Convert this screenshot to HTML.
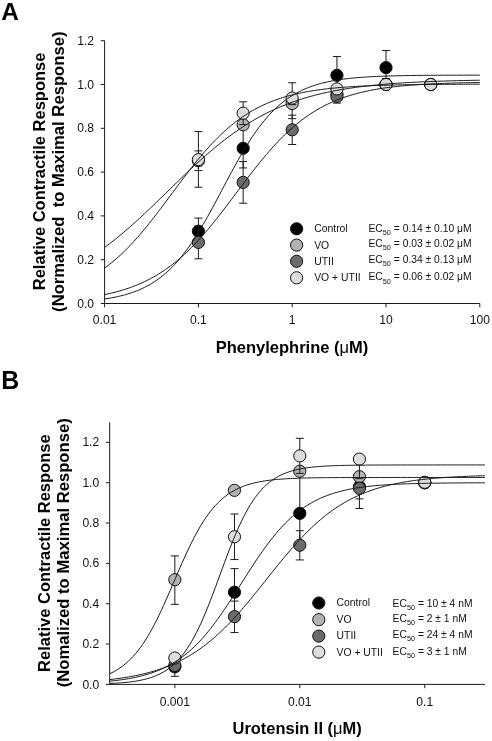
<!DOCTYPE html>
<html><head><meta charset="utf-8"><title>Figure</title>
<style>html,body{margin:0;padding:0;background:#fff}body{width:492px;height:741px;overflow:hidden;font-family:"Liberation Sans",sans-serif}</style>
</head><body>
<svg width="492" height="741" viewBox="0 0 492 741" style="display:block;will-change:transform;opacity:0.999">
<rect width="492" height="741" fill="#fff"/>
<text x="1.3" y="20.2" font-size="24.4" font-weight="bold" fill="#000" font-family="Liberation Sans, sans-serif">A</text>
<text x="1.2" y="389.1" font-size="24.9" font-weight="bold" fill="#000" font-family="Liberation Sans, sans-serif">B</text>
<path d="M104.60 40.50V303.50H479.80" fill="none" stroke="#1a1a1a" stroke-width="1"/>
<line x1="100.80" x2="104.60" y1="303.50" y2="303.50" stroke="#1a1a1a" stroke-width="1"/>
<text x="94.10" y="307.60" font-size="12.1" text-anchor="end" fill="#111" font-family="Liberation Sans, sans-serif">0.0</text>
<line x1="100.80" x2="104.60" y1="259.70" y2="259.70" stroke="#1a1a1a" stroke-width="1"/>
<text x="94.10" y="263.80" font-size="12.1" text-anchor="end" fill="#111" font-family="Liberation Sans, sans-serif">0.2</text>
<line x1="100.80" x2="104.60" y1="215.90" y2="215.90" stroke="#1a1a1a" stroke-width="1"/>
<text x="94.10" y="220.00" font-size="12.1" text-anchor="end" fill="#111" font-family="Liberation Sans, sans-serif">0.4</text>
<line x1="100.80" x2="104.60" y1="172.10" y2="172.10" stroke="#1a1a1a" stroke-width="1"/>
<text x="94.10" y="176.20" font-size="12.1" text-anchor="end" fill="#111" font-family="Liberation Sans, sans-serif">0.6</text>
<line x1="100.80" x2="104.60" y1="128.30" y2="128.30" stroke="#1a1a1a" stroke-width="1"/>
<text x="94.10" y="132.40" font-size="12.1" text-anchor="end" fill="#111" font-family="Liberation Sans, sans-serif">0.8</text>
<line x1="100.80" x2="104.60" y1="84.50" y2="84.50" stroke="#1a1a1a" stroke-width="1"/>
<text x="94.10" y="88.60" font-size="12.1" text-anchor="end" fill="#111" font-family="Liberation Sans, sans-serif">1.0</text>
<line x1="100.80" x2="104.60" y1="40.70" y2="40.70" stroke="#1a1a1a" stroke-width="1"/>
<text x="94.10" y="44.80" font-size="12.1" text-anchor="end" fill="#111" font-family="Liberation Sans, sans-serif">1.2</text>
<line x1="104.60" x2="104.60" y1="303.50" y2="307.30" stroke="#1a1a1a" stroke-width="1"/>
<text x="104.60" y="324.30" font-size="12.1" text-anchor="middle" fill="#111" font-family="Liberation Sans, sans-serif">0.01</text>
<line x1="198.40" x2="198.40" y1="303.50" y2="307.30" stroke="#1a1a1a" stroke-width="1"/>
<text x="198.40" y="324.30" font-size="12.1" text-anchor="middle" fill="#111" font-family="Liberation Sans, sans-serif">0.1</text>
<line x1="292.20" x2="292.20" y1="303.50" y2="307.30" stroke="#1a1a1a" stroke-width="1"/>
<text x="292.20" y="324.30" font-size="12.1" text-anchor="middle" fill="#111" font-family="Liberation Sans, sans-serif">1</text>
<line x1="386.00" x2="386.00" y1="303.50" y2="307.30" stroke="#1a1a1a" stroke-width="1"/>
<text x="386.00" y="324.30" font-size="12.1" text-anchor="middle" fill="#111" font-family="Liberation Sans, sans-serif">10</text>
<line x1="479.80" x2="479.80" y1="303.50" y2="307.30" stroke="#1a1a1a" stroke-width="1"/>
<text x="479.80" y="324.30" font-size="12.1" text-anchor="middle" fill="#111" font-family="Liberation Sans, sans-serif">100</text>
<path d="M198.40 231.23V218.09M194.40 218.09H202.40" fill="none" stroke="#1a1a1a" stroke-width="1"/>
<path d="M198.40 231.23V244.37M194.40 244.37H202.40" fill="none" stroke="#1a1a1a" stroke-width="1"/>
<path d="M243.15 148.23V128.52M239.15 128.52H247.15" fill="none" stroke="#1a1a1a" stroke-width="1"/>
<path d="M243.15 148.23V167.94M239.15 167.94H247.15" fill="none" stroke="#1a1a1a" stroke-width="1"/>
<path d="M292.20 100.92V94.35M288.20 94.35H296.20" fill="none" stroke="#1a1a1a" stroke-width="1"/>
<path d="M292.20 100.92V107.50M288.20 107.50H296.20" fill="none" stroke="#1a1a1a" stroke-width="1"/>
<path d="M336.95 75.30V56.47M332.95 56.47H340.95" fill="none" stroke="#1a1a1a" stroke-width="1"/>
<path d="M336.95 75.30V86.25M332.95 86.25H340.95" fill="none" stroke="#1a1a1a" stroke-width="1"/>
<path d="M386.00 67.64V50.56M382.00 50.56H390.00" fill="none" stroke="#1a1a1a" stroke-width="1"/>
<path d="M386.00 67.64V78.59M382.00 78.59H390.00" fill="none" stroke="#1a1a1a" stroke-width="1"/>
<circle cx="198.40" cy="231.23" r="6.1" fill="#000000" stroke="#111" stroke-width="1"/>
<circle cx="243.15" cy="148.23" r="6.1" fill="#000000" stroke="#111" stroke-width="1"/>
<circle cx="292.20" cy="100.92" r="6.1" fill="#000000" stroke="#111" stroke-width="1"/>
<circle cx="336.95" cy="75.30" r="6.1" fill="#000000" stroke="#111" stroke-width="1"/>
<circle cx="386.00" cy="67.64" r="6.1" fill="#000000" stroke="#111" stroke-width="1"/>
<path d="M198.40 160.71V150.86M194.40 150.86H202.40" fill="none" stroke="#1a1a1a" stroke-width="1"/>
<path d="M198.40 160.71V170.57M194.40 170.57H202.40" fill="none" stroke="#1a1a1a" stroke-width="1"/>
<path d="M243.15 124.80V120.42M239.15 120.42H247.15" fill="none" stroke="#1a1a1a" stroke-width="1"/>
<path d="M243.15 124.80V129.18M239.15 129.18H247.15" fill="none" stroke="#1a1a1a" stroke-width="1"/>
<path d="M292.20 103.55V96.98M288.20 96.98H296.20" fill="none" stroke="#1a1a1a" stroke-width="1"/>
<path d="M292.20 103.55V118.66M288.20 118.66H296.20" fill="none" stroke="#1a1a1a" stroke-width="1"/>
<path d="M336.95 94.14V89.76M332.95 89.76H340.95" fill="none" stroke="#1a1a1a" stroke-width="1"/>
<path d="M336.95 94.14V98.52M332.95 98.52H340.95" fill="none" stroke="#1a1a1a" stroke-width="1"/>
<circle cx="198.40" cy="160.71" r="6.1" fill="#b2b2b2" stroke="#111" stroke-width="1"/>
<circle cx="243.15" cy="124.80" r="6.1" fill="#b2b2b2" stroke="#111" stroke-width="1"/>
<circle cx="292.20" cy="103.55" r="6.1" fill="#b2b2b2" stroke="#111" stroke-width="1"/>
<circle cx="336.95" cy="94.14" r="6.1" fill="#b2b2b2" stroke="#111" stroke-width="1"/>
<circle cx="386.00" cy="84.50" r="6.1" fill="#b2b2b2" stroke="#111" stroke-width="1"/>
<circle cx="430.75" cy="84.50" r="6.1" fill="#b2b2b2" stroke="#111" stroke-width="1"/>
<path d="M198.40 242.40V225.97M194.40 225.97H202.40" fill="none" stroke="#1a1a1a" stroke-width="1"/>
<path d="M198.40 242.40V258.82M194.40 258.82H202.40" fill="none" stroke="#1a1a1a" stroke-width="1"/>
<path d="M243.15 182.39V161.59M239.15 161.59H247.15" fill="none" stroke="#1a1a1a" stroke-width="1"/>
<path d="M243.15 182.39V203.20M239.15 203.20H247.15" fill="none" stroke="#1a1a1a" stroke-width="1"/>
<path d="M292.20 129.83V115.16M288.20 115.16H296.20" fill="none" stroke="#1a1a1a" stroke-width="1"/>
<path d="M292.20 129.83V144.51M288.20 144.51H296.20" fill="none" stroke="#1a1a1a" stroke-width="1"/>
<path d="M336.95 96.55V89.97M332.95 89.97H340.95" fill="none" stroke="#1a1a1a" stroke-width="1"/>
<path d="M336.95 96.55V103.12M332.95 103.12H340.95" fill="none" stroke="#1a1a1a" stroke-width="1"/>
<circle cx="198.40" cy="242.40" r="6.1" fill="#6b6b6b" stroke="#111" stroke-width="1"/>
<circle cx="243.15" cy="182.39" r="6.1" fill="#6b6b6b" stroke="#111" stroke-width="1"/>
<circle cx="292.20" cy="129.83" r="6.1" fill="#6b6b6b" stroke="#111" stroke-width="1"/>
<circle cx="336.95" cy="96.55" r="6.1" fill="#6b6b6b" stroke="#111" stroke-width="1"/>
<circle cx="386.00" cy="84.50" r="6.1" fill="#6b6b6b" stroke="#111" stroke-width="1"/>
<circle cx="430.75" cy="84.50" r="6.1" fill="#6b6b6b" stroke="#111" stroke-width="1"/>
<path d="M198.40 159.62V131.58M194.40 131.58H202.40" fill="none" stroke="#1a1a1a" stroke-width="1"/>
<path d="M198.40 159.62V187.21M194.40 187.21H202.40" fill="none" stroke="#1a1a1a" stroke-width="1"/>
<path d="M243.15 113.19V101.80M239.15 101.80H247.15" fill="none" stroke="#1a1a1a" stroke-width="1"/>
<path d="M243.15 113.19V124.58M239.15 124.58H247.15" fill="none" stroke="#1a1a1a" stroke-width="1"/>
<path d="M292.20 98.08V82.75M288.20 82.75H296.20" fill="none" stroke="#1a1a1a" stroke-width="1"/>
<path d="M292.20 98.08V104.65M288.20 104.65H296.20" fill="none" stroke="#1a1a1a" stroke-width="1"/>
<path d="M336.95 88.88V84.50M332.95 84.50H340.95" fill="none" stroke="#1a1a1a" stroke-width="1"/>
<path d="M336.95 88.88V93.26M332.95 93.26H340.95" fill="none" stroke="#1a1a1a" stroke-width="1"/>
<circle cx="198.40" cy="159.62" r="6.1" fill="#dddddd" stroke="#111" stroke-width="1"/>
<circle cx="243.15" cy="113.19" r="6.1" fill="#dddddd" stroke="#111" stroke-width="1"/>
<circle cx="292.20" cy="98.08" r="6.1" fill="#dddddd" stroke="#111" stroke-width="1"/>
<circle cx="336.95" cy="88.88" r="6.1" fill="#dddddd" stroke="#111" stroke-width="1"/>
<circle cx="386.00" cy="84.50" r="6.1" fill="#dddddd" stroke="#111" stroke-width="1"/>
<circle cx="430.75" cy="84.50" r="6.1" fill="#dddddd" stroke="#111" stroke-width="1"/>
<path d="M104.60 298.98L106.94 298.62L109.29 298.23L111.63 297.82L113.98 297.37L116.32 296.89L118.67 296.37L121.02 295.82L123.36 295.22L125.70 294.58L128.05 293.89L130.39 293.14L132.74 292.35L135.09 291.49L137.43 290.58L139.77 289.60L142.12 288.55L144.47 287.42L146.81 286.22L149.16 284.94L151.50 283.57L153.84 282.11L156.19 280.56L158.54 278.90L160.88 277.14L163.23 275.28L165.57 273.30L167.92 271.20L170.26 268.99L172.61 266.65L174.95 264.18L177.30 261.59L179.64 258.86L181.99 256.01L184.33 253.02L186.68 249.90L189.02 246.64L191.37 243.26L193.71 239.75L196.06 236.12L198.40 232.37L200.75 228.51L203.09 224.54L205.44 220.48L207.78 216.33L210.12 212.11L212.47 207.81L214.81 203.47L217.16 199.08L219.51 194.66L221.85 190.23L224.20 185.79L226.54 181.36L228.89 176.96L231.23 172.60L233.58 168.28L235.92 164.03L238.27 159.84L240.61 155.74L242.96 151.74L245.30 147.83L247.65 144.03L249.99 140.35L252.34 136.79L254.68 133.35L257.03 130.04L259.37 126.87L261.72 123.82L264.06 120.91L266.41 118.13L268.75 115.48L271.10 112.96L273.44 110.57L275.79 108.30L278.13 106.15L280.48 104.13L282.82 102.21L285.17 100.41L287.51 98.71L289.86 97.11L292.20 95.62L294.55 94.21L296.89 92.89L299.24 91.66L301.58 90.50L303.93 89.42L306.27 88.41L308.62 87.47L310.96 86.59L313.31 85.77L315.65 85.00L318.00 84.29L320.34 83.63L322.69 83.01L325.03 82.44L327.38 81.91L329.72 81.41L332.07 80.95L334.41 80.52L336.75 80.12L339.10 79.75L341.45 79.41L343.79 79.09L346.14 78.80L348.48 78.52L350.83 78.27L353.17 78.04L355.52 77.82L357.86 77.62L360.21 77.43L362.55 77.25L364.90 77.09L367.24 76.94L369.59 76.81L371.93 76.68L374.28 76.56L376.62 76.45L378.97 76.35L381.31 76.25L383.66 76.17L386.00 76.09L388.35 76.01L390.69 75.94L393.04 75.88L395.38 75.82L397.73 75.76L400.07 75.71L402.42 75.67L404.76 75.62L407.11 75.58L409.45 75.55L411.80 75.51L414.14 75.48L416.49 75.45L418.83 75.42L421.18 75.40L423.52 75.37L425.87 75.35L428.21 75.33L430.56 75.31L432.90 75.30L435.25 75.28L437.59 75.27L439.94 75.25L442.28 75.24L444.63 75.23L446.97 75.22L449.32 75.21L451.66 75.20L454.00 75.19L456.35 75.18L458.70 75.17L461.04 75.17L463.38 75.16L465.73 75.15L468.08 75.15L470.42 75.14L472.77 75.14L475.11 75.14L477.46 75.13L479.80 75.13" fill="none" stroke="#1a1a1a" stroke-width="1"/>
<path d="M104.60 247.44L106.94 245.71L109.29 243.94L111.63 242.13L113.98 240.29L116.32 238.42L118.67 236.52L121.02 234.58L123.36 232.62L125.70 230.62L128.05 228.59L130.39 226.54L132.74 224.46L135.09 222.36L137.43 220.23L139.77 218.08L142.12 215.91L144.47 213.72L146.81 211.51L149.16 209.28L151.50 207.04L153.84 204.79L156.19 202.53L158.54 200.25L160.88 197.97L163.23 195.69L165.57 193.40L167.92 191.11L170.26 188.82L172.61 186.53L174.95 184.24L177.30 181.96L179.64 179.69L181.99 177.43L184.33 175.18L186.68 172.94L189.02 170.72L191.37 168.52L193.71 166.33L196.06 164.16L198.40 162.02L200.75 159.89L203.09 157.80L205.44 155.72L207.78 153.68L210.12 151.66L212.47 149.67L214.81 147.71L217.16 145.78L219.51 143.89L221.85 142.02L224.20 140.19L226.54 138.39L228.89 136.63L231.23 134.90L233.58 133.21L235.92 131.55L238.27 129.93L240.61 128.35L242.96 126.80L245.30 125.28L247.65 123.81L249.99 122.37L252.34 120.96L254.68 119.59L257.03 118.25L259.37 116.96L261.72 115.69L264.06 114.46L266.41 113.26L268.75 112.10L271.10 110.97L273.44 109.87L275.79 108.81L278.13 107.78L280.48 106.77L282.82 105.80L285.17 104.86L287.51 103.95L289.86 103.06L292.20 102.21L294.55 101.38L296.89 100.58L299.24 99.80L301.58 99.05L303.93 98.32L306.27 97.62L308.62 96.94L310.96 96.29L313.31 95.66L315.65 95.05L318.00 94.46L320.34 93.89L322.69 93.34L325.03 92.81L327.38 92.29L329.72 91.80L332.07 91.33L334.41 90.87L336.75 90.42L339.10 90.00L341.45 89.59L343.79 89.19L346.14 88.81L348.48 88.44L350.83 88.09L353.17 87.75L355.52 87.42L357.86 87.10L360.21 86.80L362.55 86.51L364.90 86.23L367.24 85.95L369.59 85.69L371.93 85.44L374.28 85.20L376.62 84.97L378.97 84.74L381.31 84.53L383.66 84.32L386.00 84.12L388.35 83.93L390.69 83.75L393.04 83.57L395.38 83.40L397.73 83.24L400.07 83.08L402.42 82.93L404.76 82.78L407.11 82.64L409.45 82.51L411.80 82.38L414.14 82.26L416.49 82.14L418.83 82.02L421.18 81.91L423.52 81.81L425.87 81.71L428.21 81.61L430.56 81.52L432.90 81.43L435.25 81.34L437.59 81.26L439.94 81.18L442.28 81.10L444.63 81.03L446.97 80.95L449.32 80.89L451.66 80.82L454.00 80.76L456.35 80.70L458.70 80.64L461.04 80.58L463.38 80.53L465.73 80.48L468.08 80.43L470.42 80.38L472.77 80.34L475.11 80.29L477.46 80.25L479.80 80.21" fill="none" stroke="#1a1a1a" stroke-width="1"/>
<path d="M104.60 294.60L106.94 294.10L109.29 293.58L111.63 293.04L113.98 292.46L116.32 291.85L118.67 291.21L121.02 290.54L123.36 289.84L125.70 289.09L128.05 288.32L130.39 287.50L132.74 286.64L135.09 285.74L137.43 284.80L139.77 283.81L142.12 282.77L144.47 281.69L146.81 280.55L149.16 279.37L151.50 278.12L153.84 276.83L156.19 275.48L158.54 274.07L160.88 272.60L163.23 271.07L165.57 269.47L167.92 267.82L170.26 266.09L172.61 264.31L174.95 262.45L177.30 260.53L179.64 258.55L181.99 256.49L184.33 254.37L186.68 252.18L189.02 249.92L191.37 247.59L193.71 245.20L196.06 242.75L198.40 240.23L200.75 237.65L203.09 235.00L205.44 232.31L207.78 229.55L210.12 226.75L212.47 223.89L214.81 220.99L217.16 218.05L219.51 215.07L221.85 212.06L224.20 209.01L226.54 205.94L228.89 202.85L231.23 199.75L233.58 196.63L235.92 193.50L238.27 190.38L240.61 187.26L242.96 184.14L245.30 181.04L247.65 177.96L249.99 174.90L252.34 171.87L254.68 168.88L257.03 165.91L259.37 162.99L261.72 160.11L264.06 157.28L266.41 154.50L268.75 151.77L271.10 149.10L273.44 146.49L275.79 143.94L278.13 141.45L280.48 139.02L282.82 136.66L285.17 134.37L287.51 132.14L289.86 129.98L292.20 127.89L294.55 125.87L296.89 123.91L299.24 122.03L301.58 120.20L303.93 118.45L306.27 116.76L308.62 115.13L310.96 113.57L313.31 112.07L315.65 110.63L318.00 109.24L320.34 107.92L322.69 106.65L325.03 105.43L327.38 104.27L329.72 103.16L332.07 102.10L334.41 101.09L336.75 100.12L339.10 99.20L341.45 98.32L343.79 97.48L346.14 96.68L348.48 95.92L350.83 95.20L353.17 94.51L355.52 93.85L357.86 93.23L360.21 92.63L362.55 92.07L364.90 91.54L367.24 91.03L369.59 90.55L371.93 90.09L374.28 89.65L376.62 89.24L378.97 88.85L381.31 88.48L383.66 88.13L386.00 87.79L388.35 87.47L390.69 87.17L393.04 86.89L395.38 86.62L397.73 86.37L400.07 86.12L402.42 85.90L404.76 85.68L407.11 85.47L409.45 85.28L411.80 85.09L414.14 84.92L416.49 84.76L418.83 84.60L421.18 84.45L423.52 84.31L425.87 84.18L428.21 84.05L430.56 83.93L432.90 83.82L435.25 83.72L437.59 83.62L439.94 83.52L442.28 83.43L444.63 83.35L446.97 83.27L449.32 83.19L451.66 83.12L454.00 83.05L456.35 82.99L458.70 82.93L461.04 82.87L463.38 82.81L465.73 82.76L468.08 82.71L470.42 82.67L472.77 82.62L475.11 82.58L477.46 82.54L479.80 82.51" fill="none" stroke="#1a1a1a" stroke-width="1"/>
<path d="M104.60 268.11L106.94 266.36L109.29 264.55L111.63 262.68L113.98 260.73L116.32 258.71L118.67 256.62L121.02 254.47L123.36 252.24L125.70 249.95L128.05 247.58L130.39 245.15L132.74 242.65L135.09 240.09L137.43 237.46L139.77 234.77L142.12 232.03L144.47 229.22L146.81 226.37L149.16 223.47L151.50 220.52L153.84 217.53L156.19 214.50L158.54 211.44L160.88 208.35L163.23 205.23L165.57 202.10L167.92 198.96L170.26 195.80L172.61 192.64L174.95 189.49L177.30 186.34L179.64 183.20L181.99 180.08L184.33 176.99L186.68 173.92L189.02 170.88L191.37 167.88L193.71 164.92L196.06 162.00L198.40 159.13L200.75 156.32L203.09 153.55L205.44 150.85L207.78 148.21L210.12 145.62L212.47 143.11L214.81 140.66L217.16 138.27L219.51 135.96L221.85 133.71L224.20 131.53L226.54 129.43L228.89 127.39L231.23 125.42L233.58 123.53L235.92 121.70L238.27 119.94L240.61 118.24L242.96 116.61L245.30 115.05L247.65 113.55L249.99 112.11L252.34 110.73L254.68 109.41L257.03 108.15L259.37 106.94L261.72 105.79L264.06 104.69L266.41 103.64L268.75 102.64L271.10 101.68L273.44 100.77L275.79 99.90L278.13 99.08L280.48 98.29L282.82 97.54L285.17 96.83L287.51 96.16L289.86 95.52L292.20 94.91L294.55 94.33L296.89 93.78L299.24 93.26L301.58 92.77L303.93 92.30L306.27 91.85L308.62 91.43L310.96 91.03L313.31 90.65L315.65 90.30L318.00 89.96L320.34 89.64L322.69 89.33L325.03 89.04L327.38 88.77L329.72 88.51L332.07 88.27L334.41 88.04L336.75 87.82L339.10 87.61L341.45 87.42L343.79 87.23L346.14 87.06L348.48 86.89L350.83 86.73L353.17 86.59L355.52 86.45L357.86 86.32L360.21 86.19L362.55 86.07L364.90 85.96L367.24 85.86L369.59 85.76L371.93 85.66L374.28 85.57L376.62 85.49L378.97 85.41L381.31 85.33L383.66 85.26L386.00 85.20L388.35 85.13L390.69 85.07L393.04 85.02L395.38 84.96L397.73 84.91L400.07 84.87L402.42 84.82L404.76 84.78L407.11 84.74L409.45 84.70L411.80 84.67L414.14 84.63L416.49 84.60L418.83 84.57L421.18 84.54L423.52 84.52L425.87 84.49L428.21 84.47L430.56 84.44L432.90 84.42L435.25 84.40L437.59 84.38L439.94 84.37L442.28 84.35L444.63 84.33L446.97 84.32L449.32 84.30L451.66 84.29L454.00 84.28L456.35 84.26L458.70 84.25L461.04 84.24L463.38 84.23L465.73 84.22L468.08 84.21L470.42 84.21L472.77 84.20L475.11 84.19L477.46 84.18L479.80 84.18" fill="none" stroke="#1a1a1a" stroke-width="1"/>
<circle cx="296.6" cy="228.8" r="6.1" fill="#000000" stroke="#111" stroke-width="1"/>
<text x="314.2" y="232.3" font-size="10.4" fill="#111" font-family="Liberation Sans, sans-serif">Control</text>
<text x="368.5" y="232.0" font-size="10.3" fill="#111" font-family="Liberation Sans, sans-serif">EC<tspan font-size="7.31" dy="3.1">50</tspan><tspan dy="-3.1"> = 0.14 ± 0.10 μM</tspan></text>
<circle cx="296.6" cy="245.1" r="6.1" fill="#b2b2b2" stroke="#111" stroke-width="1"/>
<text x="314.2" y="248.8" font-size="10.4" fill="#111" font-family="Liberation Sans, sans-serif">VO</text>
<text x="368.5" y="246.7" font-size="10.3" fill="#111" font-family="Liberation Sans, sans-serif">EC<tspan font-size="7.31" dy="3.1">50</tspan><tspan dy="-3.1"> = 0.03 ± 0.02 μM</tspan></text>
<circle cx="296.6" cy="261.3" r="6.1" fill="#6b6b6b" stroke="#111" stroke-width="1"/>
<text x="314.2" y="265.0" font-size="10.4" fill="#111" font-family="Liberation Sans, sans-serif">UTII</text>
<text x="368.5" y="263.3" font-size="10.3" fill="#111" font-family="Liberation Sans, sans-serif">EC<tspan font-size="7.31" dy="3.1">50</tspan><tspan dy="-3.1"> = 0.34 ± 0.13 μM</tspan></text>
<circle cx="296.6" cy="277.8" r="6.1" fill="#dddddd" stroke="#111" stroke-width="1"/>
<text x="314.2" y="281.3" font-size="10.4" fill="#111" font-family="Liberation Sans, sans-serif">VO + UTII</text>
<text x="368.5" y="280.4" font-size="10.3" fill="#111" font-family="Liberation Sans, sans-serif">EC<tspan font-size="7.31" dy="3.1">50</tspan><tspan dy="-3.1"> = 0.06 ± 0.02 μM</tspan></text>
<text transform="translate(44.6 171.4) rotate(-90)" font-size="16.52" font-weight="bold" text-anchor="middle" fill="#000" font-family="Liberation Sans, sans-serif">Relative Contractile Response</text>
<text transform="translate(64.2 171.7) rotate(-90)" font-size="16.66" font-weight="bold" text-anchor="middle" fill="#000" font-family="Liberation Sans, sans-serif" xml:space="preserve">(Normalized  to Maximal Response)</text>
<text x="292.0" y="353.1" font-size="16.5" font-weight="bold" text-anchor="middle" fill="#000" font-family="Liberation Sans, sans-serif">Phenylephrine (<tspan font-weight="normal">μ</tspan>M)</text>
<path d="M109.70 422.30V684.40H484.90" fill="none" stroke="#1a1a1a" stroke-width="1"/>
<line x1="105.90" x2="109.70" y1="684.40" y2="684.40" stroke="#1a1a1a" stroke-width="1"/>
<text x="99.20" y="688.50" font-size="12.1" text-anchor="end" fill="#111" font-family="Liberation Sans, sans-serif">0.0</text>
<line x1="105.90" x2="109.70" y1="644.06" y2="644.06" stroke="#1a1a1a" stroke-width="1"/>
<text x="99.20" y="648.16" font-size="12.1" text-anchor="end" fill="#111" font-family="Liberation Sans, sans-serif">0.2</text>
<line x1="105.90" x2="109.70" y1="603.72" y2="603.72" stroke="#1a1a1a" stroke-width="1"/>
<text x="99.20" y="607.82" font-size="12.1" text-anchor="end" fill="#111" font-family="Liberation Sans, sans-serif">0.4</text>
<line x1="105.90" x2="109.70" y1="563.38" y2="563.38" stroke="#1a1a1a" stroke-width="1"/>
<text x="99.20" y="567.48" font-size="12.1" text-anchor="end" fill="#111" font-family="Liberation Sans, sans-serif">0.6</text>
<line x1="105.90" x2="109.70" y1="523.04" y2="523.04" stroke="#1a1a1a" stroke-width="1"/>
<text x="99.20" y="527.14" font-size="12.1" text-anchor="end" fill="#111" font-family="Liberation Sans, sans-serif">0.8</text>
<line x1="105.90" x2="109.70" y1="482.70" y2="482.70" stroke="#1a1a1a" stroke-width="1"/>
<text x="99.20" y="486.80" font-size="12.1" text-anchor="end" fill="#111" font-family="Liberation Sans, sans-serif">1.0</text>
<line x1="105.90" x2="109.70" y1="442.36" y2="442.36" stroke="#1a1a1a" stroke-width="1"/>
<text x="99.20" y="446.46" font-size="12.1" text-anchor="end" fill="#111" font-family="Liberation Sans, sans-serif">1.2</text>
<line x1="174.85" x2="174.85" y1="684.40" y2="688.20" stroke="#1a1a1a" stroke-width="1"/>
<text x="174.85" y="705.70" font-size="12.1" text-anchor="middle" fill="#111" font-family="Liberation Sans, sans-serif">0.001</text>
<line x1="299.80" x2="299.80" y1="684.40" y2="688.20" stroke="#1a1a1a" stroke-width="1"/>
<text x="299.80" y="705.70" font-size="12.1" text-anchor="middle" fill="#111" font-family="Liberation Sans, sans-serif">0.01</text>
<line x1="424.75" x2="424.75" y1="684.40" y2="688.20" stroke="#1a1a1a" stroke-width="1"/>
<text x="424.75" y="705.70" font-size="12.1" text-anchor="middle" fill="#111" font-family="Liberation Sans, sans-serif">0.1</text>
<path d="M174.85 666.85V660.80M170.85 660.80H178.85" fill="none" stroke="#1a1a1a" stroke-width="1"/>
<path d="M174.85 666.85V676.33M170.85 676.33H178.85" fill="none" stroke="#1a1a1a" stroke-width="1"/>
<path d="M234.47 592.22V568.62M230.47 568.62H238.47" fill="none" stroke="#1a1a1a" stroke-width="1"/>
<path d="M234.47 592.22V615.82M230.47 615.82H238.47" fill="none" stroke="#1a1a1a" stroke-width="1"/>
<path d="M299.80 513.36V473.02M295.80 473.02H303.80" fill="none" stroke="#1a1a1a" stroke-width="1"/>
<path d="M299.80 513.36V547.65M295.80 547.65H303.80" fill="none" stroke="#1a1a1a" stroke-width="1"/>
<path d="M359.42 486.73V480.68M355.42 480.68H363.42" fill="none" stroke="#1a1a1a" stroke-width="1"/>
<path d="M359.42 486.73V498.84M355.42 498.84H363.42" fill="none" stroke="#1a1a1a" stroke-width="1"/>
<circle cx="174.85" cy="666.85" r="6.1" fill="#000000" stroke="#111" stroke-width="1"/>
<circle cx="234.47" cy="592.22" r="6.1" fill="#000000" stroke="#111" stroke-width="1"/>
<circle cx="299.80" cy="513.36" r="6.1" fill="#000000" stroke="#111" stroke-width="1"/>
<circle cx="359.42" cy="486.73" r="6.1" fill="#000000" stroke="#111" stroke-width="1"/>
<circle cx="424.75" cy="482.70" r="6.1" fill="#000000" stroke="#111" stroke-width="1"/>
<path d="M174.85 579.72V555.92M170.85 555.92H178.85" fill="none" stroke="#1a1a1a" stroke-width="1"/>
<path d="M174.85 579.72V604.33M170.85 604.33H178.85" fill="none" stroke="#1a1a1a" stroke-width="1"/>
<path d="M234.47 490.36V486.33M230.47 486.33H238.47" fill="none" stroke="#1a1a1a" stroke-width="1"/>
<path d="M234.47 490.36V494.40M230.47 494.40H238.47" fill="none" stroke="#1a1a1a" stroke-width="1"/>
<path d="M299.80 471.20V467.17M295.80 467.17H303.80" fill="none" stroke="#1a1a1a" stroke-width="1"/>
<path d="M299.80 471.20V475.24M295.80 475.24H303.80" fill="none" stroke="#1a1a1a" stroke-width="1"/>
<path d="M359.42 476.65V472.62M355.42 472.62H363.42" fill="none" stroke="#1a1a1a" stroke-width="1"/>
<path d="M359.42 476.65V480.68M355.42 480.68H363.42" fill="none" stroke="#1a1a1a" stroke-width="1"/>
<circle cx="174.85" cy="579.72" r="6.1" fill="#b2b2b2" stroke="#111" stroke-width="1"/>
<circle cx="234.47" cy="490.36" r="6.1" fill="#b2b2b2" stroke="#111" stroke-width="1"/>
<circle cx="299.80" cy="471.20" r="6.1" fill="#b2b2b2" stroke="#111" stroke-width="1"/>
<circle cx="359.42" cy="476.65" r="6.1" fill="#b2b2b2" stroke="#111" stroke-width="1"/>
<circle cx="424.75" cy="482.70" r="6.1" fill="#b2b2b2" stroke="#111" stroke-width="1"/>
<path d="M174.85 665.44V659.39M170.85 659.39H178.85" fill="none" stroke="#1a1a1a" stroke-width="1"/>
<path d="M174.85 665.44V671.49M170.85 671.49H178.85" fill="none" stroke="#1a1a1a" stroke-width="1"/>
<path d="M234.47 616.63V601.10M230.47 601.10H238.47" fill="none" stroke="#1a1a1a" stroke-width="1"/>
<path d="M234.47 616.63V632.56M230.47 632.56H238.47" fill="none" stroke="#1a1a1a" stroke-width="1"/>
<path d="M299.80 545.23V530.70M295.80 530.70H303.80" fill="none" stroke="#1a1a1a" stroke-width="1"/>
<path d="M299.80 545.23V559.95M295.80 559.95H303.80" fill="none" stroke="#1a1a1a" stroke-width="1"/>
<path d="M359.42 488.35V482.30M355.42 482.30H363.42" fill="none" stroke="#1a1a1a" stroke-width="1"/>
<path d="M359.42 488.35V508.52M355.42 508.52H363.42" fill="none" stroke="#1a1a1a" stroke-width="1"/>
<circle cx="174.85" cy="665.44" r="6.1" fill="#6b6b6b" stroke="#111" stroke-width="1"/>
<circle cx="234.47" cy="616.63" r="6.1" fill="#6b6b6b" stroke="#111" stroke-width="1"/>
<circle cx="299.80" cy="545.23" r="6.1" fill="#6b6b6b" stroke="#111" stroke-width="1"/>
<circle cx="359.42" cy="488.35" r="6.1" fill="#6b6b6b" stroke="#111" stroke-width="1"/>
<circle cx="424.75" cy="482.70" r="6.1" fill="#6b6b6b" stroke="#111" stroke-width="1"/>
<path d="M174.85 657.98V653.94M170.85 653.94H178.85" fill="none" stroke="#1a1a1a" stroke-width="1"/>
<path d="M174.85 657.98V662.01M170.85 662.01H178.85" fill="none" stroke="#1a1a1a" stroke-width="1"/>
<path d="M234.47 536.76V513.96M230.47 513.96H238.47" fill="none" stroke="#1a1a1a" stroke-width="1"/>
<path d="M234.47 536.76V559.55M230.47 559.55H238.47" fill="none" stroke="#1a1a1a" stroke-width="1"/>
<path d="M299.80 455.87V438.33M295.80 438.33H303.80" fill="none" stroke="#1a1a1a" stroke-width="1"/>
<path d="M299.80 455.87V473.42M295.80 473.42H303.80" fill="none" stroke="#1a1a1a" stroke-width="1"/>
<path d="M359.42 459.10V478.67M355.42 478.67H363.42" fill="none" stroke="#1a1a1a" stroke-width="1"/>
<circle cx="174.85" cy="657.98" r="6.1" fill="#dddddd" stroke="#111" stroke-width="1"/>
<circle cx="234.47" cy="536.76" r="6.1" fill="#dddddd" stroke="#111" stroke-width="1"/>
<circle cx="299.80" cy="455.87" r="6.1" fill="#dddddd" stroke="#111" stroke-width="1"/>
<circle cx="359.42" cy="459.10" r="6.1" fill="#dddddd" stroke="#111" stroke-width="1"/>
<circle cx="424.75" cy="482.30" r="6.1" fill="#dddddd" stroke="#111" stroke-width="1"/>
<path d="M109.70 681.18L112.04 680.94L114.39 680.68L116.73 680.40L119.08 680.10L121.43 679.78L123.77 679.44L126.12 679.07L128.46 678.68L130.80 678.26L133.15 677.80L135.50 677.32L137.84 676.80L140.19 676.24L142.53 675.65L144.88 675.01L147.22 674.33L149.57 673.60L151.91 672.83L154.25 672.00L156.60 671.12L158.94 670.18L161.29 669.17L163.63 668.11L165.98 666.97L168.33 665.76L170.67 664.48L173.01 663.13L175.36 661.69L177.70 660.16L180.05 658.55L182.39 656.85L184.74 655.06L187.09 653.17L189.43 651.18L191.77 649.09L194.12 646.90L196.47 644.60L198.81 642.20L201.16 639.70L203.50 637.09L205.84 634.38L208.19 631.57L210.53 628.65L212.88 625.64L215.23 622.54L217.57 619.34L219.92 616.06L222.26 612.70L224.60 609.27L226.95 605.78L229.30 602.23L231.64 598.63L233.99 594.99L236.33 591.32L238.68 587.63L241.02 583.92L243.36 580.22L245.71 576.53L248.06 572.85L250.40 569.21L252.75 565.60L255.09 562.03L257.44 558.53L259.78 555.08L262.12 551.71L264.47 548.42L266.81 545.20L269.16 542.08L271.50 539.05L273.85 536.11L276.20 533.28L278.54 530.55L280.88 527.92L283.23 525.39L285.57 522.97L287.92 520.66L290.27 518.45L292.61 516.34L294.96 514.33L297.30 512.42L299.64 510.60L301.99 508.88L304.34 507.25L306.68 505.71L309.03 504.26L311.37 502.88L313.72 501.59L316.06 500.37L318.41 499.22L320.75 498.14L323.09 497.12L325.44 496.17L327.78 495.27L330.13 494.44L332.48 493.65L334.82 492.91L337.17 492.22L339.51 491.58L341.86 490.98L344.20 490.41L346.55 489.89L348.89 489.39L351.23 488.93L353.58 488.51L355.93 488.11L358.27 487.73L360.62 487.38L362.96 487.06L365.31 486.76L367.65 486.47L370.00 486.21L372.34 485.97L374.69 485.74L377.03 485.53L379.38 485.33L381.72 485.15L384.06 484.97L386.41 484.81L388.75 484.67L391.10 484.53L393.44 484.40L395.79 484.28L398.13 484.17L400.48 484.07L402.82 483.97L405.17 483.88L407.51 483.80L409.86 483.72L412.20 483.65L414.55 483.58L416.90 483.52L419.24 483.46L421.58 483.41L423.93 483.36L426.27 483.31L428.62 483.27L430.97 483.23L433.31 483.19L435.66 483.16L438.00 483.12L440.34 483.09L442.69 483.07L445.04 483.04L447.38 483.02L449.73 482.99L452.07 482.97L454.42 482.95L456.76 482.94L459.10 482.92L461.45 482.90L463.79 482.89L466.14 482.88L468.49 482.86L470.83 482.85L473.17 482.84L475.52 482.83L477.86 482.82L480.21 482.81L482.56 482.81L484.90 482.80" fill="none" stroke="#1a1a1a" stroke-width="1"/>
<path d="M109.70 673.73L112.04 672.61L114.39 671.38L116.73 670.02L119.08 668.54L121.43 666.93L123.77 665.16L126.12 663.23L128.46 661.14L130.80 658.86L133.15 656.40L135.50 653.74L137.84 650.88L140.19 647.80L142.53 644.51L144.88 641.00L147.22 637.26L149.57 633.30L151.91 629.13L154.25 624.74L156.60 620.15L158.94 615.38L161.29 610.43L163.63 605.34L165.98 600.11L168.33 594.79L170.67 589.38L173.01 583.93L175.36 578.46L177.70 573.01L180.05 567.60L182.39 562.27L184.74 557.03L187.09 551.92L189.43 546.96L191.77 542.17L194.12 537.56L196.47 533.16L198.81 528.96L201.16 524.98L203.50 521.22L205.84 517.68L208.19 514.37L210.53 511.27L212.88 508.39L215.23 505.71L217.57 503.23L219.92 500.93L222.26 498.82L224.60 496.88L226.95 495.10L229.30 493.47L231.64 491.97L233.99 490.61L236.33 489.37L238.68 488.23L241.02 487.20L243.36 486.27L245.71 485.42L248.06 484.65L250.40 483.95L252.75 483.31L255.09 482.74L257.44 482.22L259.78 481.76L262.12 481.33L264.47 480.95L266.81 480.61L269.16 480.29L271.50 480.01L273.85 479.76L276.20 479.53L278.54 479.32L280.88 479.14L283.23 478.97L285.57 478.82L287.92 478.68L290.27 478.56L292.61 478.45L294.96 478.35L297.30 478.26L299.64 478.18L301.99 478.11L304.34 478.04L306.68 477.98L309.03 477.93L311.37 477.88L313.72 477.84L316.06 477.80L318.41 477.77L320.75 477.74L323.09 477.71L325.44 477.68L327.78 477.66L330.13 477.64L332.48 477.62L334.82 477.60L337.17 477.59L339.51 477.58L341.86 477.56L344.20 477.55L346.55 477.54L348.89 477.53L351.23 477.53L353.58 477.52L355.93 477.51L358.27 477.51L360.62 477.50L362.96 477.50L365.31 477.49L367.65 477.49L370.00 477.49L372.34 477.48L374.69 477.48L377.03 477.48L379.38 477.48L381.72 477.47L384.06 477.47L386.41 477.47L388.75 477.47L391.10 477.47L393.44 477.47L395.79 477.47L398.13 477.46L400.48 477.46L402.82 477.46L405.17 477.46L407.51 477.46L409.86 477.46L412.20 477.46L414.55 477.46L416.90 477.46L419.24 477.46L421.58 477.46L423.93 477.46L426.27 477.46L428.62 477.46L430.97 477.46L433.31 477.46L435.66 477.46L438.00 477.46L440.34 477.46L442.69 477.46L445.04 477.46L447.38 477.46L449.73 477.46L452.07 477.46L454.42 477.46L456.76 477.46L459.10 477.46L461.45 477.46L463.79 477.46L466.14 477.46L468.49 477.46L470.83 477.46L473.17 477.46L475.52 477.46L477.86 477.46L480.21 477.46L482.56 477.46L484.90 477.46" fill="none" stroke="#1a1a1a" stroke-width="1"/>
<path d="M109.70 679.59L112.04 679.32L114.39 679.04L116.73 678.74L119.08 678.42L121.43 678.08L123.77 677.73L126.12 677.36L128.46 676.96L130.80 676.55L133.15 676.12L135.50 675.66L137.84 675.17L140.19 674.66L142.53 674.13L144.88 673.57L147.22 672.98L149.57 672.35L151.91 671.70L154.25 671.01L156.60 670.29L158.94 669.53L161.29 668.74L163.63 667.90L165.98 667.03L168.33 666.11L170.67 665.15L173.01 664.15L175.36 663.10L177.70 662.00L180.05 660.85L182.39 659.65L184.74 658.40L187.09 657.09L189.43 655.73L191.77 654.31L194.12 652.83L196.47 651.29L198.81 649.70L201.16 648.04L203.50 646.32L205.84 644.54L208.19 642.69L210.53 640.78L212.88 638.81L215.23 636.77L217.57 634.67L219.92 632.51L222.26 630.28L224.60 628.00L226.95 625.65L229.30 623.25L231.64 620.79L233.99 618.27L236.33 615.70L238.68 613.08L241.02 610.41L243.36 607.70L245.71 604.94L248.06 602.15L250.40 599.33L252.75 596.47L255.09 593.59L257.44 590.69L259.78 587.77L262.12 584.83L264.47 581.89L266.81 578.95L269.16 576.00L271.50 573.06L273.85 570.13L276.20 567.22L278.54 564.32L280.88 561.45L283.23 558.61L285.57 555.79L287.92 553.02L290.27 550.28L292.61 547.58L294.96 544.94L297.30 542.33L299.64 539.78L301.99 537.29L304.34 534.85L306.68 532.47L309.03 530.14L311.37 527.88L313.72 525.68L316.06 523.54L318.41 521.46L320.75 519.45L323.09 517.50L325.44 515.62L327.78 513.80L330.13 512.04L332.48 510.35L334.82 508.71L337.17 507.14L339.51 505.62L341.86 504.17L344.20 502.77L346.55 501.43L348.89 500.15L351.23 498.91L353.58 497.73L355.93 496.60L358.27 495.52L360.62 494.49L362.96 493.50L365.31 492.56L367.65 491.66L370.00 490.80L372.34 489.98L374.69 489.20L377.03 488.46L379.38 487.75L381.72 487.08L384.06 486.43L386.41 485.82L388.75 485.24L391.10 484.69L393.44 484.17L395.79 483.67L398.13 483.20L400.48 482.75L402.82 482.32L405.17 481.91L407.51 481.53L409.86 481.16L412.20 480.82L414.55 480.49L416.90 480.18L419.24 479.88L421.58 479.60L423.93 479.34L426.27 479.09L428.62 478.85L430.97 478.62L433.31 478.41L435.66 478.20L438.00 478.01L440.34 477.83L442.69 477.66L445.04 477.50L447.38 477.34L449.73 477.19L452.07 477.06L454.42 476.93L456.76 476.80L459.10 476.68L461.45 476.57L463.79 476.47L466.14 476.37L468.49 476.27L470.83 476.19L473.17 476.10L475.52 476.02L477.86 475.95L480.21 475.87L482.56 475.81L484.90 475.74" fill="none" stroke="#1a1a1a" stroke-width="1"/>
<path d="M109.70 683.50L112.04 683.39L114.39 683.26L116.73 683.12L119.08 682.97L121.43 682.79L123.77 682.59L126.12 682.37L128.46 682.12L130.80 681.84L133.15 681.53L135.50 681.18L137.84 680.79L140.19 680.35L142.53 679.86L144.88 679.31L147.22 678.70L149.57 678.01L151.91 677.25L154.25 676.39L156.60 675.44L158.94 674.38L161.29 673.21L163.63 671.90L165.98 670.45L168.33 668.85L170.67 667.08L173.01 665.12L175.36 662.97L177.70 660.60L180.05 658.01L182.39 655.18L184.74 652.10L187.09 648.75L189.43 645.13L191.77 641.22L194.12 637.03L196.47 632.55L198.81 627.79L201.16 622.76L203.50 617.45L205.84 611.91L208.19 606.13L210.53 600.17L212.88 594.03L215.23 587.77L217.57 581.43L219.92 575.04L222.26 568.64L224.60 562.29L226.95 556.01L229.30 549.87L231.64 543.88L233.99 538.08L236.33 532.51L238.68 527.18L241.02 522.11L243.36 517.32L245.71 512.81L248.06 508.59L250.40 504.65L252.75 501.00L255.09 497.62L257.44 494.50L259.78 491.65L262.12 489.03L264.47 486.64L266.81 484.46L269.16 482.49L271.50 480.69L273.85 479.07L276.20 477.61L278.54 476.28L280.88 475.09L283.23 474.02L285.57 473.06L287.92 472.20L290.27 471.42L292.61 470.73L294.96 470.11L297.30 469.55L299.64 469.05L301.99 468.61L304.34 468.21L306.68 467.86L309.03 467.54L311.37 467.26L313.72 467.01L316.06 466.78L318.41 466.58L320.75 466.40L323.09 466.24L325.44 466.10L327.78 465.98L330.13 465.86L332.48 465.76L334.82 465.67L337.17 465.60L339.51 465.52L341.86 465.46L344.20 465.41L346.55 465.36L348.89 465.31L351.23 465.27L353.58 465.24L355.93 465.20L358.27 465.18L360.62 465.15L362.96 465.13L365.31 465.11L367.65 465.09L370.00 465.08L372.34 465.06L374.69 465.05L377.03 465.04L379.38 465.03L381.72 465.02L384.06 465.01L386.41 465.01L388.75 465.00L391.10 464.99L393.44 464.99L395.79 464.99L398.13 464.98L400.48 464.98L402.82 464.98L405.17 464.97L407.51 464.97L409.86 464.97L412.20 464.97L414.55 464.96L416.90 464.96L419.24 464.96L421.58 464.96L423.93 464.96L426.27 464.96L428.62 464.96L430.97 464.96L433.31 464.96L435.66 464.96L438.00 464.95L440.34 464.95L442.69 464.95L445.04 464.95L447.38 464.95L449.73 464.95L452.07 464.95L454.42 464.95L456.76 464.95L459.10 464.95L461.45 464.95L463.79 464.95L466.14 464.95L468.49 464.95L470.83 464.95L473.17 464.95L475.52 464.95L477.86 464.95L480.21 464.95L482.56 464.95L484.90 464.95" fill="none" stroke="#1a1a1a" stroke-width="1"/>
<circle cx="318.8" cy="603.0" r="6.1" fill="#000000" stroke="#111" stroke-width="1"/>
<text x="336.6" y="606.3" font-size="10.35" fill="#111" font-family="Liberation Sans, sans-serif">Control</text>
<text x="392.6" y="606.8" font-size="10.3" fill="#111" font-family="Liberation Sans, sans-serif">EC<tspan font-size="7.31" dy="3.1">50</tspan><tspan dy="-3.1"> = 10 ± 4 nM</tspan></text>
<circle cx="318.8" cy="619.7" r="6.1" fill="#b2b2b2" stroke="#111" stroke-width="1"/>
<text x="336.6" y="622.6" font-size="10.35" fill="#111" font-family="Liberation Sans, sans-serif">VO</text>
<text x="392.6" y="621.8" font-size="10.3" fill="#111" font-family="Liberation Sans, sans-serif">EC<tspan font-size="7.31" dy="3.1">50</tspan><tspan dy="-3.1"> = 2 ± 1 nM</tspan></text>
<circle cx="318.8" cy="636.1" r="6.1" fill="#6b6b6b" stroke="#111" stroke-width="1"/>
<text x="336.6" y="639.2" font-size="10.35" fill="#111" font-family="Liberation Sans, sans-serif">UTII</text>
<text x="392.6" y="638.0" font-size="10.3" fill="#111" font-family="Liberation Sans, sans-serif">EC<tspan font-size="7.31" dy="3.1">50</tspan><tspan dy="-3.1"> = 24 ± 4 nM</tspan></text>
<circle cx="318.8" cy="652.1" r="6.1" fill="#dddddd" stroke="#111" stroke-width="1"/>
<text x="336.6" y="656.0" font-size="10.35" fill="#111" font-family="Liberation Sans, sans-serif">VO + UTII</text>
<text x="392.6" y="654.9" font-size="10.3" fill="#111" font-family="Liberation Sans, sans-serif">EC<tspan font-size="7.31" dy="3.1">50</tspan><tspan dy="-3.1"> = 3 ± 1 nM</tspan></text>
<text transform="translate(49.7 553.15) rotate(-90)" font-size="16.5" font-weight="bold" text-anchor="middle" fill="#000" font-family="Liberation Sans, sans-serif">Relative Contractile Response</text>
<text transform="translate(69.0 552.8) rotate(-90)" font-size="16.65" font-weight="bold" text-anchor="middle" fill="#000" font-family="Liberation Sans, sans-serif">(Nomalized to Maximal Response)</text>
<text x="297.1" y="733.6" font-size="16.45" font-weight="bold" text-anchor="middle" fill="#000" font-family="Liberation Sans, sans-serif">Urotensin II (<tspan font-weight="normal">μ</tspan>M)</text>
</svg>
</body></html>
